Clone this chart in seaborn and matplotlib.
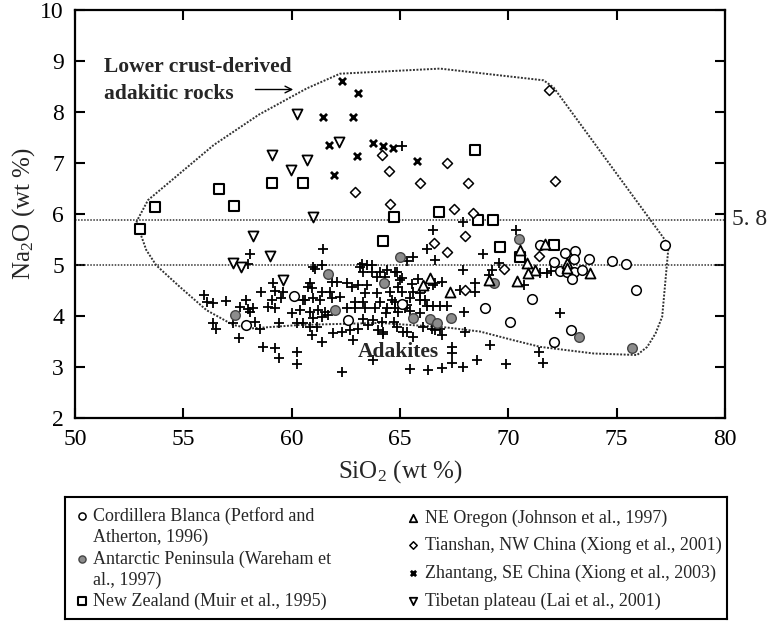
import matplotlib
matplotlib.use("Agg")
import matplotlib.pyplot as plt
import matplotlib.transforms as mtransforms
import pandas as pd
import seaborn as sns

# ---------------------------------------------------------------- data (SiO2, Na2O in wt %)
cordillera_x = [77.22, 72.63, 73.09, 73.71, 74.79, 75.45, 75.91, 72.12, 73.01, 72.40, 72.71, 73.01,
                73.40, 72.94, 72.89, 72.12, 71.47, 71.09, 68.93, 70.09, 65.08, 62.61, 60.12, 57.91]
cordillera_y = [5.39, 5.24, 5.27, 5.11, 5.07, 5.01, 4.50, 5.06, 5.11, 4.88, 4.86, 4.86,
                4.90, 4.72, 3.73, 3.48, 5.39, 4.33, 4.16, 3.88, 4.24, 3.92, 4.39, 3.82]

antarctic_x = [57.37, 61.69, 65.00, 62.00, 64.28, 65.62, 66.39, 66.70, 67.35, 69.35, 70.47, 73.25, 75.71]
antarctic_y = [4.01, 4.82, 5.16, 4.12, 4.65, 3.95, 3.93, 3.86, 3.96, 4.65, 5.50, 3.59, 3.36]

newzealand_x = [53.01, 53.68, 56.63, 57.34, 59.07, 60.53, 64.74, 64.23, 68.44, 66.82, 68.59, 69.31,
                69.63, 72.09, 70.55]
newzealand_y = [5.71, 6.14, 6.49, 6.16, 6.61, 6.61, 5.93, 5.47, 7.26, 6.04, 5.88, 5.88,
                5.34, 5.39, 5.15]

oregon_x = [70.52, 71.70, 70.86, 71.24, 70.93, 70.40, 69.09, 67.31, 66.39, 66.05, 72.71, 72.71, 73.75]
oregon_y = [5.30, 5.40, 5.03, 4.90, 4.83, 4.69, 4.70, 4.47, 4.75, 4.60, 5.04, 4.93, 4.84]

tianshan_x = [71.89, 64.16, 64.49, 67.16, 65.90, 68.13, 72.17, 64.54, 67.47, 68.39, 62.92, 66.57,
              68.01, 67.16, 71.40, 69.78, 68.01]
tianshan_y = [8.44, 7.15, 6.84, 6.99, 6.61, 6.60, 6.65, 6.20, 6.09, 6.01, 6.42, 5.43,
              5.56, 5.26, 5.17, 4.91, 4.50]

zhantang_x = [62.33, 63.07, 61.43, 62.84, 61.72, 63.74, 64.20, 64.66, 63.00, 61.95, 65.77]
zhantang_y = [8.60, 8.37, 7.90, 7.90, 7.36, 7.39, 7.33, 7.30, 7.13, 6.76, 7.03]

tibet_x = [60.23, 62.18, 59.07, 60.72, 59.96, 61.00, 58.22, 58.99, 57.30, 57.68, 59.61]
tibet_y = [7.95, 7.41, 7.15, 7.05, 6.87, 5.93, 5.57, 5.17, 5.04, 4.96, 4.71]

adakite_x = [
    65.08, 61.43, 58.07, 57.99, 66.51, 67.93, 70.37, 66.26, 66.62, 68.85, 67.93, 69.55, 69.24, 69.09,
    68.47, 68.47, 67.78, 66.93, 66.62, 70.70, 71.47, 71.78, 71.95, 72.40, 67.96,
    59.15, 59.22, 58.58, 59.61, 55.96, 56.07, 56.37, 56.99, 57.91, 59.07, 59.53, 60.53, 57.61, 58.22,
    58.91, 59.22, 60.00, 58.07, 57.30, 56.37, 56.53, 58.30, 58.53, 59.41, 60.23, 57.57, 58.68, 59.22,
    59.41, 60.23, 60.23, 60.76, 57.99,
    61.07, 61.84, 62.07, 63.23, 63.31, 63.69, 64.08, 63.69, 63.92, 64.31, 64.85, 65.00, 64.92, 64.31,
    62.54, 62.77, 63.07, 63.46, 63.38, 60.84, 60.92, 61.38, 61.77, 60.61, 60.99, 61.30, 61.84, 62.23,
    62.92, 63.31, 63.92, 64.08, 64.62, 65.31, 65.62, 65.93, 66.16, 60.38, 60.84, 61.22, 61.53, 62.54,
    62.92, 63.38, 63.84, 64.39, 64.77, 65.24, 60.99, 61.38, 61.69, 63.31, 63.77, 64.16, 60.53, 60.84,
    61.15, 61.92, 62.31, 62.69, 63.07, 60.92, 61.38, 62.84, 63.54, 64.00, 64.23, 64.85, 65.31, 65.62,
    62.31, 63.77, 61.00, 61.38, 63.15, 63.46, 64.39, 64.77, 65.31, 65.62,
    65.10, 65.55, 65.83, 66.16, 66.52, 64.54, 65.10, 65.46, 65.93, 64.77, 64.35, 64.90, 65.46, 65.93,
    64.70, 64.20, 66.24, 66.54, 66.85, 67.16, 66.06, 66.62, 66.93, 68.01, 66.47, 66.85, 65.15,
    65.46, 66.31, 66.93, 67.39, 67.93, 68.55, 69.90, 67.39, 67.39, 69.16, 71.40, 71.58,
]
adakite_y = [
    7.33, 5.32, 5.21, 5.01, 5.68, 5.84, 5.68, 5.32, 5.09, 5.22, 4.90, 5.03, 4.90, 4.80,
    4.64, 4.47, 4.50, 4.67, 4.64, 4.60, 4.84, 4.84, 4.88, 4.05, 4.08,
    4.65, 4.49, 4.47, 4.47, 4.41, 4.27, 4.25, 4.29, 4.31, 4.31, 4.34, 4.31, 4.18, 4.15,
    4.18, 4.15, 4.06, 4.08, 3.85, 3.85, 3.75, 3.88, 3.75, 3.85, 3.85, 3.57, 3.39, 3.36,
    3.18, 3.29, 3.05, 4.57, 4.14,
    4.91, 4.67, 4.67, 5.01, 4.86, 4.86, 4.86, 4.99, 4.76, 4.76, 4.86, 4.70, 4.57, 4.67,
    4.64, 4.57, 4.60, 4.60, 4.44, 4.64, 4.54, 4.47, 4.47, 4.31, 4.34, 4.31, 4.34, 4.37,
    4.27, 4.27, 4.44, 4.27, 4.31, 4.21, 4.47, 4.44, 4.31, 4.11, 4.08, 4.11, 4.08, 4.15,
    4.15, 4.15, 4.15, 4.15, 4.15, 4.15, 3.95, 3.97, 4.01, 3.93, 3.92, 3.88, 3.85, 3.78,
    3.78, 3.67, 3.69, 3.72, 3.75, 3.62, 3.49, 3.52, 3.82, 3.72, 3.65, 3.78, 3.69, 3.59,
    2.90, 3.13, 4.96, 4.99, 4.96, 4.99, 4.90, 4.86, 5.08, 5.16,
    4.74, 4.62, 4.72, 4.54, 4.60, 4.46, 4.46, 4.34, 4.30, 4.27, 4.05, 4.07, 4.09, 4.05,
    3.87, 3.68, 4.20, 4.20, 4.20, 4.20, 3.78, 3.72, 3.62, 3.69, 3.75, 3.75, 3.69,
    2.95, 2.94, 2.97, 3.07, 2.99, 3.13, 3.05, 3.26, 3.39, 3.43, 3.29, 3.07,
]

# outline of the lower crust-derived adakitic rock field
field_x = [52.83, 53.37, 56.40, 58.50, 60.69, 62.23, 66.85, 71.63, 72.09, 77.40, 77.10, 76.79,
           76.41, 75.94, 73.94, 71.47, 70.24, 68.70, 67.16, 64.08, 60.38, 58.07, 57.30, 56.07,
           54.83, 53.75, 53.29, 52.83]
field_y = [5.84, 6.27, 7.35, 7.95, 8.46, 8.75, 8.85, 8.62, 8.48, 5.39, 3.98, 3.65,
           3.39, 3.23, 3.26, 3.39, 3.52, 3.69, 3.77, 3.86, 3.82, 3.75, 3.82, 4.11,
           4.57, 4.99, 5.29, 5.84]

ref_lines = [5.88, 5.0]
x_ticks = [50, 55, 60, 65, 70, 75, 80]
y_ticks = [2, 3, 4, 5, 6, 7, 8, 9, 10]

# ---------------------------------------------------------------- styling
sns.set_theme(style="ticks")
plt.rcParams["font.family"] = ["Liberation Serif", "DejaVu Serif"]
plt.rcParams["mathtext.fontset"] = "custom"
plt.rcParams["mathtext.rm"] = "Liberation Serif"
plt.rcParams["mathtext.default"] = "regular"

fig = plt.figure(figsize=(7.71, 6.24), dpi=100)
fig.patch.set_facecolor("white")
ax = fig.add_axes([75 / 771, 1 - 417.7 / 624, 650 / 771, 407.7 / 624])
ax.set_facecolor("white")

GREY = "#8c8c8c"
series = [
    ("Adakites", adakite_x, adakite_y,
     dict(marker="+", s=55, color="black", linewidth=1.3)),
    ("Cordillera Blanca", cordillera_x, cordillera_y,
     dict(marker="o", s=48, color="white", edgecolor="black", linewidth=1.1)),
    ("Antarctic Peninsula", antarctic_x, antarctic_y,
     dict(marker="o", s=48, color=GREY, edgecolor="#444444", linewidth=1.0)),
    ("New Zealand", newzealand_x, newzealand_y,
     dict(marker="s", s=50, color="white", edgecolor="black", linewidth=1.5)),
    ("NE Oregon", oregon_x, oregon_y,
     dict(marker="^", s=52, color="white", edgecolor="black", linewidth=1.3)),
    ("Tianshan", tianshan_x, tianshan_y,
     dict(marker="D", s=26, color="white", edgecolor="black", linewidth=1.1)),
    ("Zhantang", zhantang_x, zhantang_y,
     dict(marker="x", s=26, color="black", linewidth=2.0)),
    ("Tibetan plateau", tibet_x, tibet_y,
     dict(marker="v", s=52, color="white", edgecolor="black", linewidth=1.3)),
]
for name, xs, ys, kw in series:
    df = pd.DataFrame({"SiO2": xs, "Na2O": ys})
    sns.scatterplot(data=df, x="SiO2", y="Na2O", ax=ax, legend=False, zorder=3, **kw)

ax.plot(field_x, field_y, linestyle=(0, (1, 0.8)), color="#333333", linewidth=1.4, zorder=2)
for yv in ref_lines:
    ax.axhline(yv, linestyle=(0, (1, 1)), color="#333333", linewidth=1.1, zorder=1)

ax.set_xlim(50, 80)
ax.set_ylim(2, 10)
ax.set_xticks(x_ticks)
ax.set_yticks(y_ticks)
ax.tick_params(direction="in", length=7, width=1.5, top=True, right=True,
               labelsize=17, pad=8, colors="black")
for sp in ax.spines.values():
    sp.set_visible(True)
    sp.set_linewidth(1.6)
    sp.set_color("black")
ax.set_xlabel("SiO$_2$ (wt %)", fontsize=18, labelpad=6)
ax.set_ylabel("Na$_2$O (wt %)", fontsize=18, labelpad=2)

trans = mtransforms.blended_transform_factory(ax.transAxes, ax.transData)
ax.text(1.011, 5.88, "5. 8", transform=trans, ha="left", va="center", fontsize=17, clip_on=False)

ax.text(51.36, 8.78, "Lower crust-derived", fontsize=15.5, fontweight="bold", va="baseline")
ax.text(51.36, 8.25, "adakitic rocks", fontsize=15.5, fontweight="bold", va="baseline")
ax.annotate("", xy=(60.2, 8.44), xytext=(58.2, 8.44),
            arrowprops=dict(arrowstyle="->", color="black", lw=1.0))
ax.text(63.06, 3.2, "Adakites", fontsize=15.5, fontweight="bold", va="baseline", zorder=4)

# ---------------------------------------------------------------- key
lax = fig.add_axes([65 / 771, 1 - 619 / 624, 662 / 771, 122 / 624])
lax.set_xlim(65, 727)
lax.set_ylim(619, 497)
lax.set_xticks([])
lax.set_yticks([])
lax.set_facecolor("white")
for sp in lax.spines.values():
    sp.set_visible(True)
    sp.set_linewidth(1.5)
    sp.set_color("black")

key_fs = 13.0
left_rows = [
    (series[1], ["Cordillera Blanca (Petford and", "Atherton, 1996)"], 516),
    (series[2], ["Antarctic Peninsula (Wareham et", "al., 1997)"], 559),
    (series[3], ["New Zealand (Muir et al., 1995)"], 601),
]
right_rows = [
    (series[4], ["NE Oregon (Johnson et al., 1997)"], 518),
    (series[5], ["Tianshan, NW China (Xiong et al., 2001)"], 545),
    (series[6], ["Zhantang, SE China (Xiong et al., 2003)"], 573),
    (series[7], ["Tibetan plateau (Lai et al., 2001)"], 601),
]
for rows, mx, tx in [(left_rows, 82, 93), (right_rows, 413, 425)]:
    for (name, _, _, kw), lines, yrow in rows:
        k = dict(kw)
        k["s"] = k["s"] * 0.55
        lax.scatter([mx], [yrow], **k)
        for i, line in enumerate(lines):
            lax.text(tx, yrow + i * 21.5, line, fontsize=key_fs, va="center", ha="left")

fig.savefig("out.png", dpi=100, facecolor="white")
